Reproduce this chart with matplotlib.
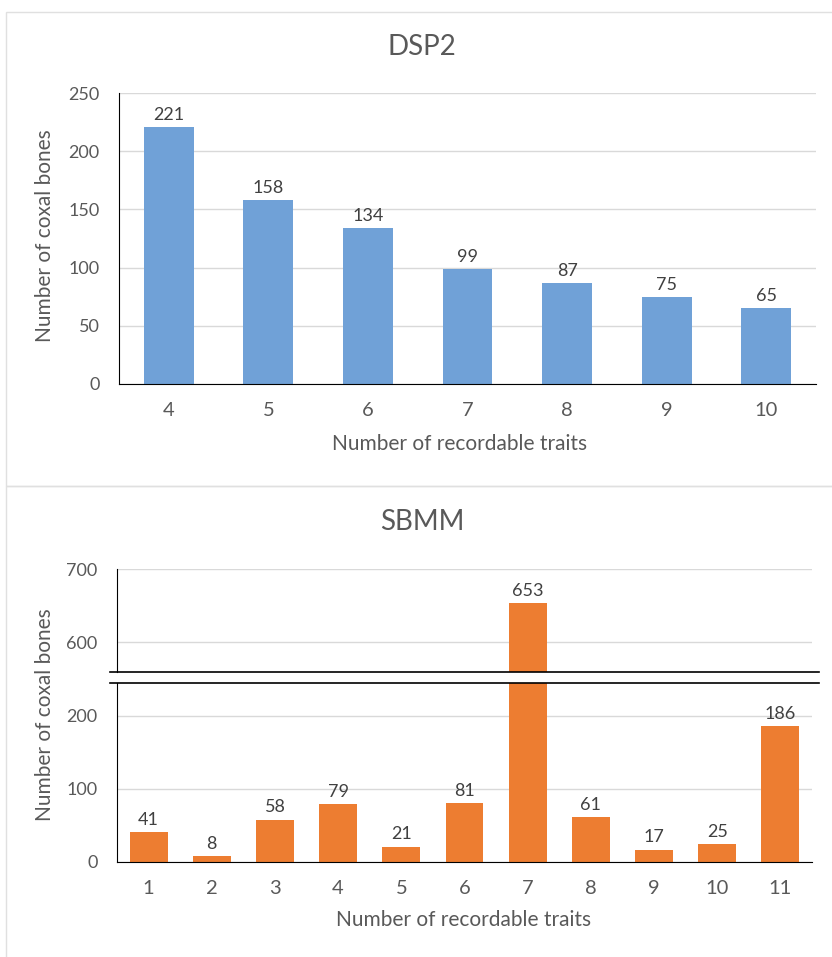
import matplotlib
matplotlib.use("Agg")
import matplotlib.pyplot as plt
from matplotlib.patches import Rectangle

plt.rcParams['font.family'] = ['Lato', 'DejaVu Sans']

dsp2_cats = ['4', '5', '6', '7', '8', '9', '10']
dsp2_vals = [221, 158, 134, 99, 87, 75, 65]
sbmm_cats = ['1', '2', '3', '4', '5', '6', '7', '8', '9', '10', '11']
sbmm_vals = [41, 8, 58, 79, 21, 81, 653, 61, 17, 25, 186]

W, H = 832, 957
fig = plt.figure(figsize=(W / 100, H / 100), dpi=100)

BLUE = '#70A1D7'
ORANGE = '#ED7D31'
GRID = '#D9D9D9'
TXT = '#595959'
LBL = '#404040'

# panel borders
fig.patches.append(Rectangle((6 / W, 1 - 486 / H), 1, (486 - 12) / H, transform=fig.transFigure,
                             fill=False, edgecolor='#E0E0E0', lw=1))
fig.patches.append(Rectangle((6 / W, -0.05), 1, 0.05 + 1 - 486 / H, transform=fig.transFigure,
                             fill=False, edgecolor='#E0E0E0', lw=1))


def style(ax):
    ax.tick_params(axis='both', length=0, labelcolor=TXT)
    ax.tick_params(axis='x', pad=13, labelsize=14.5)
    ax.tick_params(axis='y', pad=14, labelsize=13)
    for s in ['top', 'right']:
        ax.spines[s].set_visible(False)
    ax.spines['left'].set_color('black')
    ax.spines['bottom'].set_color('black')
    ax.grid(axis='y', color=GRID, lw=1)
    ax.set_axisbelow(True)


# ---- DSP2 ----
ax1 = fig.add_axes([119 / W, 1 - 384 / H, (816 - 119) / W, (384 - 93) / H])
x1 = range(len(dsp2_cats))
ax1.bar(x1, dsp2_vals, width=0.5, color=BLUE)
ax1.set_xlim(-0.5, len(dsp2_cats) - 0.5)
ax1.set_ylim(0, 250)
ax1.set_yticks([0, 50, 100, 150, 200, 250])
ax1.set_xticks(list(x1))
ax1.set_xticklabels(dsp2_cats)
style(ax1)
for xi, v in zip(x1, dsp2_vals):
    ax1.annotate(str(v), (xi, v), xytext=(0, 3), textcoords='offset points',
                 ha='center', va='bottom', fontsize=13, color=LBL)
ax1.set_xlabel('Number of recordable traits', fontsize=15, color=TXT, va='center')
ax1.xaxis.set_label_coords(0.488, (384 - 444) / 291)
ax1.set_ylabel('Number of coxal bones', fontsize=15, color=TXT, va='center')
ax1.yaxis.set_label_coords((45 - 119) / 697, (384 - 236) / 291)
fig.text(422 / W, 1 - 47 / H, 'DSP2', ha='center', va='center', fontsize=20, color=TXT)

# ---- SBMM ----
left2, right2 = 117, 812
axu = fig.add_axes([left2 / W, 1 - 672 / H, (right2 - left2) / W, (672 - 569) / H])
axl = fig.add_axes([left2 / W, 1 - 862 / H, (right2 - left2) / W, (862 - 683) / H])
x2 = range(len(sbmm_cats))
for ax in (axu, axl):
    ax.bar(x2, sbmm_vals, width=0.6, color=ORANGE)
    ax.set_xlim(-0.5, len(sbmm_cats) - 0.5)
    style(ax)
axu.set_ylim(559, 700)
axu.set_yticks([600, 700])
axu.set_xticks([])
axu.spines['bottom'].set_visible(False)
axl.set_ylim(0, 245)
axl.set_yticks([0, 100, 200])
axl.set_xticks(list(x2))
axl.set_xticklabels(sbmm_cats)

# break lines
for ax, yy in ((axu, 0), (axl, 1)):
    ax.plot([-0.01, 1.01], [yy, yy], transform=ax.transAxes, color='black', lw=1.2, clip_on=False)

for xi, v in zip(x2, sbmm_vals):
    ax = axu if v > 559 else axl
    ax.annotate(str(v), (xi, v), xytext=(0, 3), textcoords='offset points',
                ha='center', va='bottom', fontsize=13, color=LBL)

axl.set_xlabel('Number of recordable traits', fontsize=15, color=TXT, va='center')
axl.xaxis.set_label_coords((464 - 117) / 695, (862 - 920) / 179)
fig.text(45 / W, 1 - 715 / H, 'Number of coxal bones', rotation=90, ha='center', va='center',
         fontsize=15, color=TXT)
fig.text(422 / W, 1 - 522 / H, 'SBMM', ha='center', va='center', fontsize=20, color=TXT)

fig.savefig('out.png', dpi=100)
